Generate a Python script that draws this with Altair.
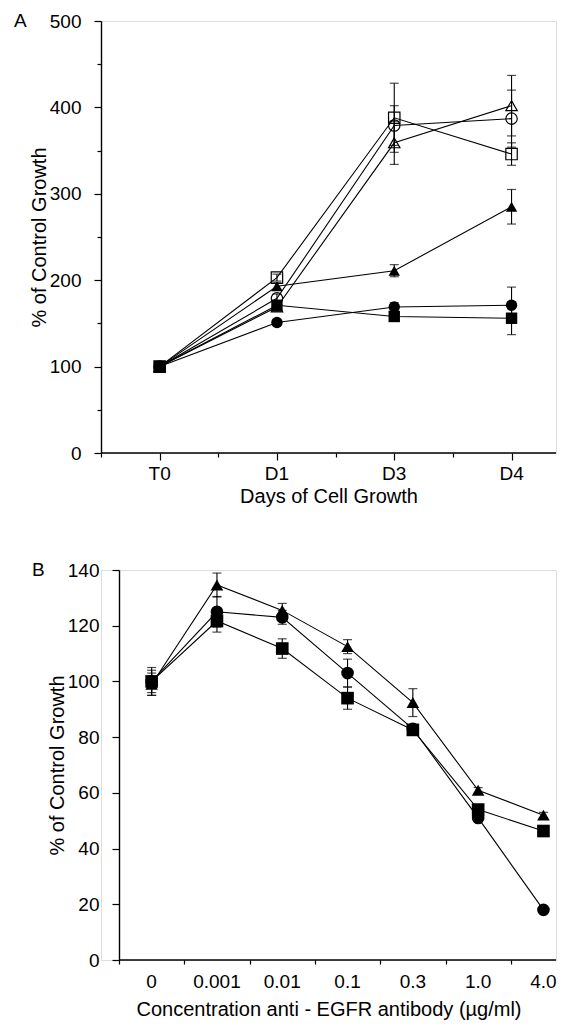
import altair as alt
import pandas as pd

FONT = "Liberation Sans"

# ---------------- Panel A data ----------------
a_days = ["T0", "D1", "D3", "D4"]
a_pos = [0, 1, 2, 3]
a_names = ["open_square", "open_circle", "open_triangle",
           "filled_triangle", "filled_circle", "filled_square"]
a_shapes = ["square", "circle", "triangle-up", "triangle-up", "circle", "square"]
a_filled = [False, False, False, True, True, True]
a_values = [
    [100, 203, 388, 346],
    [100, 179, 379, 387],
    [100, 169, 359, 402],
    [100, 193, 211, 285],
    [100, 151, 169, 171],
    [100, 171, 158, 156],
]
a_errors = [
    [0, 4, 40, 13],
    [0, 5, 23, 33],
    [0, 5, 25, 35],
    [0, 4, 7, 20],
    [0, 3, 5, 21],
    [0, 3, 5, 19],
]

# ---------------- Panel B data ----------------
b_conc = ["0", "0.001", "0.01", "0.1", "0.3", "1.0", "4.0"]
b_pos = [0, 1, 2, 3, 4, 5, 6]
b_names = ["triangle", "circle", "square"]
b_shapes = ["triangle-up", "circle", "square"]
b_values = [
    [99, 134.6, 125.5, 112.5, 92.4, 60.9, 52],
    [100, 125, 123, 103, 83, 51, 18],
    [100, 121.7, 111.8, 94, 82.6, 54, 46.3],
]
b_errors = [
    [4, 4.3, 2.5, 2.5, 5, 1, 1],
    [5, 5.5, 2.5, 5, 1, 1, 1],
    [4, 4, 3.5, 4, 1, 1, 1],
]


def long_df(names, shapes, filled, pos, values, errors):
    rows = []
    for n, s, f, vals, errs in zip(names, shapes, filled, values, errors):
        for x, v, e in zip(pos, vals, errs):
            rows.append({"series": n, "shape": s, "filled": f, "x": x,
                         "y": v, "lo": v - e, "hi": v + e, "err": e})
    return pd.DataFrame(rows)


def panel(df, labels, positions, xstart, xdom, ydom, ymajor, ystep, width, height,
          xtitle, letter, letter_x, yoffset, msize, label_dy, title_dy):
    xvals = []
    k = xstart
    while k <= xdom[1] + 1e-9:
        xvals.append(round(k, 2))
        k += 0.5
    yvals = list(range(ydom[0], ydom[1] + 1, ystep))
    major_x = "(datum.value % 1 === 0 && datum.value >= 0)"
    xaxis = alt.Axis(
        values=xvals, title=xtitle, grid=False, domain=False, labels=False,
        tickSize={"condition": {"test": major_x, "value": 7}, "value": 4},
        titleFont=FONT, titleFontSize=20, titleFontWeight="normal", titleColor="black",
        titleY=title_dy, titleBaseline="middle",
        tickColor="black", tickWidth=1.2,
    )
    major_y = f"datum.value % {ymajor} === 0"
    yaxis = alt.Axis(
        values=yvals, title="% of Control Growth", grid=False, offset=yoffset,
        labelOverlap=False, labelFlush=False,
        labelExpr=f"{major_y} ? datum.label : ''",
        tickSize={"condition": {"test": major_y, "value": 7}, "value": 4},
        labelFont=FONT, labelFontSize=19, labelColor="black", labelPadding=13,
        titleFont=FONT, titleFontSize=20, titleFontWeight="normal", titleColor="black",
        titleX=-62, titleBaseline="middle",
        domainColor="black", domainWidth=1.4, tickColor="black", tickWidth=1.2,
    )
    xs = alt.Scale(domain=xdom, nice=False, zero=False)
    ys = alt.Scale(domain=[ydom[0], ydom[1]], nice=False)
    base = alt.Chart(df)
    lines = base.mark_line(color="black", strokeWidth=1.1).encode(
        x=alt.X("x:Q", scale=xs, axis=xaxis),
        y=alt.Y("y:Q", scale=ys, axis=yaxis),
        detail="series:N",
    )
    # x tick labels drawn from the category list through the x scale
    tick_labels = alt.Chart(pd.DataFrame({"p": positions, "lab": labels})).mark_text(
        font=FONT, fontSize=19, baseline="middle", align="center", color="black").encode(
        x="p:Q", y=alt.value(height + label_dy), text="lab:N")
    # x-axis baseline running from the y-axis to the right end
    baseline = alt.Chart(pd.DataFrame({"a": [xstart], "b": [xdom[1]], "y0": [ydom[0]]})).mark_rule(
        color="black", strokeWidth=1.4).encode(x="a:Q", x2="b:Q", y="y0:Q")
    eb = base.transform_filter("datum.err > 0")
    rules = eb.mark_rule(color="black", strokeWidth=1.1).encode(
        x="x:Q", y="lo:Q", y2="hi:Q")
    cap_lo = eb.mark_tick(color="black", orient="horizontal", size=9, thickness=1.2).encode(
        x="x:Q", y="lo:Q")
    cap_hi = eb.mark_tick(color="black", orient="horizontal", size=9, thickness=1.2).encode(
        x="x:Q", y="hi:Q")
    pts_f = base.transform_filter("datum.filled").mark_point(
        filled=True, color="black", opacity=1, size=msize).encode(
        x="x:Q", y="y:Q", shape=alt.Shape("shape:N", scale=None))
    pts_o = base.transform_filter("!datum.filled").mark_point(
        filled=False, color="black", opacity=1, size=msize, strokeWidth=1.2).encode(
        x="x:Q", y="y:Q", shape=alt.Shape("shape:N", scale=None))
    let = alt.Chart(pd.DataFrame({"t": [letter]})).mark_text(
        font=FONT, fontSize=19, align="left", baseline="middle", color="black").encode(
        x=alt.value(letter_x), y=alt.value(0), text="t:N")
    return alt.layer(lines, baseline, rules, cap_lo, cap_hi, pts_o, pts_f,
                     tick_labels, let).properties(width=width, height=height)


dfa = long_df(a_names, a_shapes, a_filled, a_pos, a_values, a_errors)
dfb = long_df(b_names, b_shapes, [True] * 3, b_pos, b_values, b_errors)

W = 455
a_unit = 117.3
b_unit = 65.3
# panel B's y-axis sits 18 px right of panel A's; its scale starts further left
b_left = -0.5 - 18 / b_unit
pa = panel(dfa, a_days, a_pos, -0.5, [-0.5, -0.5 + W / a_unit], (0, 500), 100, 50, W, 432,
           "Days of Cell Growth", "A", -87, 0, 130, 21, 43)
pb = panel(dfb, b_conc, b_pos, -0.5, [b_left, b_left + W / b_unit], (0, 140), 20, 10, W, 390,
           "Concentration anti - EGFR antibody (µg/ml)", "B", -69, -18, 160, 22, 49)

chart = alt.vconcat(pa, pb, spacing=53).properties(
    padding={"top": 3, "left": 5, "right": 0, "bottom": 0}
).configure_view(stroke=None).configure(background="white")

chart.save("out.html", embed_options={"renderer": "svg", "actions": False})
